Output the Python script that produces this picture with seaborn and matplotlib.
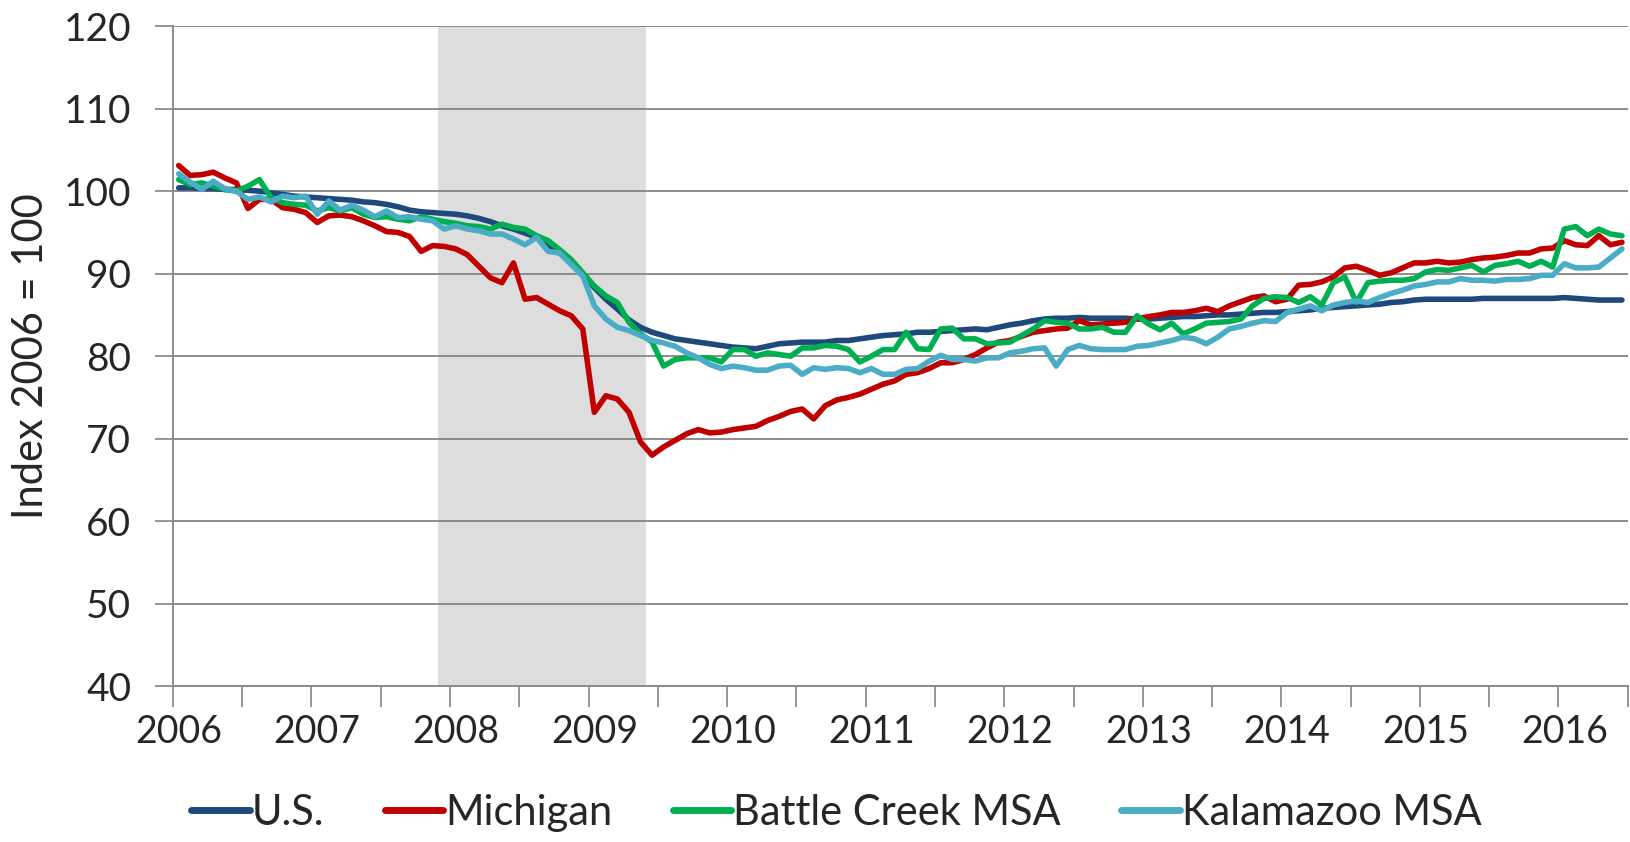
import numpy as np
import pandas as pd
import matplotlib
matplotlib.use("Agg")
import matplotlib.pyplot as plt
import seaborn as sns

# ---------- data (monthly index, 2006 = 100), Jan 2006 - Jun 2016 ----------
us = [100.4, 100.4, 100.3, 100.3, 100.2, 100.2, 100.1, 100.0, 99.8, 99.6,
      99.4, 99.3, 99.2, 99.1, 99.0, 98.9, 98.7, 98.6, 98.4, 98.1,
      97.7, 97.5, 97.4, 97.3, 97.2, 97.0, 96.7, 96.3, 95.8, 95.4,
      94.9, 94.4, 93.5, 92.5, 91.3, 89.9, 88.3, 86.9, 85.7, 84.4,
      83.5, 82.9, 82.5, 82.1, 81.9, 81.7, 81.5, 81.3, 81.1, 81.0,
      80.9, 81.2, 81.5, 81.6, 81.7, 81.7, 81.7, 81.9, 81.9, 82.1,
      82.3, 82.5, 82.6, 82.7, 82.9, 82.9, 83.0, 83.1, 83.2, 83.3,
      83.2, 83.5, 83.8, 84.0, 84.3, 84.5, 84.6, 84.6, 84.7, 84.6,
      84.6, 84.6, 84.6, 84.5, 84.5, 84.6, 84.7, 84.8, 84.8, 84.9,
      85.0, 85.0, 85.1, 85.2, 85.3, 85.3, 85.4, 85.5, 85.6, 85.8,
      85.9, 86.0, 86.1, 86.2, 86.3, 86.5, 86.6, 86.8, 86.9, 86.9,
      86.9, 86.9, 86.9, 87.0, 87.0, 87.0, 87.0, 87.0, 87.0, 87.0,
      87.1, 87.0, 86.9, 86.8, 86.8, 86.8]

michigan = [103.1, 101.9, 102.0, 102.3, 101.6, 101.0, 97.9, 99.0, 99.0, 98.0,
            97.8, 97.4, 96.2, 97.0, 97.1, 96.9, 96.4, 95.8, 95.1, 95.0,
            94.5, 92.7, 93.4, 93.3, 93.0, 92.3, 90.9, 89.5, 88.9, 91.3,
            86.9, 87.1, 86.3, 85.5, 84.9, 83.3, 73.2, 75.2, 74.8, 73.2,
            69.6, 68.0, 69.0, 69.8, 70.6, 71.1, 70.7, 70.8, 71.1, 71.3,
            71.5, 72.2, 72.7, 73.3, 73.6, 72.4, 74.0, 74.7, 75.0, 75.4,
            76.0, 76.6, 77.0, 77.8, 78.0, 78.5, 79.2, 79.2, 79.6, 80.2,
            81.0, 81.7, 81.9, 82.4, 82.9, 83.1, 83.3, 83.4, 84.3, 83.8,
            83.9, 84.0, 84.1, 84.5, 84.8, 85.0, 85.3, 85.3, 85.5, 85.8,
            85.4, 86.1, 86.6, 87.1, 87.3, 86.6, 86.9, 88.6, 88.7, 89.0,
            89.6, 90.7, 90.9, 90.4, 89.8, 90.1, 90.7, 91.3, 91.3, 91.5,
            91.3, 91.4, 91.7, 91.9, 92.0, 92.2, 92.5, 92.5, 93.0, 93.1,
            94.0, 93.5, 93.4, 94.6, 93.5, 93.8]

battle_creek = [101.4, 100.8, 101.0, 100.6, 100.2, 100.0, 100.6, 101.4, 99.2, 98.6,
                98.4, 98.3, 97.6, 98.0, 97.6, 98.0, 97.2, 96.8, 96.9, 96.6,
                96.4, 96.9, 96.6, 96.3, 96.1, 95.8, 95.7, 95.4, 96.0, 95.6,
                95.4, 94.6, 94.0, 92.9, 91.7, 90.1, 88.5, 87.3, 86.5, 84.1,
                82.7, 81.7, 78.8, 79.6, 79.8, 79.8, 79.8, 79.3, 80.8, 80.8,
                80.0, 80.4, 80.2, 80.0, 81.0, 81.0, 81.3, 81.2, 80.8, 79.3,
                80.0, 80.8, 80.8, 82.9, 80.9, 80.8, 83.3, 83.4, 82.1, 82.1,
                81.5, 81.6, 81.7, 82.5, 83.3, 84.3, 84.1, 84.0, 83.3, 83.3,
                83.5, 82.9, 82.9, 84.9, 83.9, 83.2, 84.0, 82.7, 83.3, 84.0,
                84.1, 84.2, 84.5, 86.1, 87.0, 87.2, 87.1, 86.5, 87.2, 86.2,
                88.9, 89.6, 86.5, 88.9, 89.1, 89.2, 89.2, 89.4, 90.2, 90.5,
                90.4, 90.7, 91.0, 90.2, 91.0, 91.2, 91.5, 90.9, 91.5, 90.8,
                95.4, 95.7, 94.6, 95.4, 94.8, 94.6]

kalamazoo = [102.1, 101.1, 100.2, 101.2, 100.3, 100.0, 99.0, 99.3, 98.7, 99.4,
             99.2, 99.4, 97.2, 98.8, 97.7, 98.3, 97.7, 96.9, 97.6, 96.8,
             96.9, 96.6, 96.4, 95.4, 95.8, 95.4, 95.2, 94.8, 94.8, 94.2,
             93.5, 94.4, 92.7, 92.5, 91.1, 89.7, 86.1, 84.5, 83.5, 83.1,
             82.5, 81.9, 81.6, 81.2, 80.4, 79.8, 79.0, 78.5, 78.8, 78.6,
             78.3, 78.3, 78.8, 78.9, 77.8, 78.6, 78.4, 78.6, 78.5, 78.0,
             78.5, 77.8, 77.8, 78.4, 78.5, 79.4, 80.1, 79.6, 79.6, 79.4,
             79.8, 79.8, 80.4, 80.6, 80.9, 81.0, 78.8, 80.8, 81.3, 80.9,
             80.8, 80.8, 80.8, 81.2, 81.3, 81.6, 81.9, 82.3, 82.1, 81.5,
             82.3, 83.3, 83.6, 84.0, 84.3, 84.2, 85.3, 85.7, 86.1, 85.5,
             86.2, 86.5, 86.7, 86.5, 87.1, 87.6, 88.0, 88.5, 88.7, 89.0,
             89.0, 89.4, 89.2, 89.2, 89.1, 89.3, 89.3, 89.4, 89.8, 89.8,
             91.2, 90.7, 90.7, 90.8, 91.9, 93.0]

series_names = ["U.S.", "Michigan", "Battle Creek MSA", "Kalamazoo MSA"]
colors = ["#1F497D", "#C00000", "#00B050", "#4BACC6"]
years = list(range(2006, 2017))
recession = ("2007-12", "2009-06")  # NBER recession, shaded

# ---------- build long table ----------
months = pd.date_range("2006-01", periods=len(us), freq="MS")
xpos = months.year + (months.month - 0.5) / 12.0  # centre of each month

frames = []
for name, vals in zip(series_names, [us, michigan, battle_creek, kalamazoo]):
    frames.append(pd.DataFrame({"x": xpos, "value": vals, "series": name}))
df = pd.concat(frames, ignore_index=True)


def to_x(s):
    d = pd.Timestamp(s)
    return d.year + (d.month - 1) / 12.0


# ---------- plot ----------
sns.set_theme(style="white")
plt.rcParams["font.family"] = ["Lato", "DejaVu Sans"]

fig = plt.figure(figsize=(16.31, 8.42), dpi=100)
ax = fig.add_axes([0.106, 0.185, 0.892, 0.784])

ax.axvspan(to_x(recession[0]), to_x(recession[1]), color="#DDDDDD", lw=0, zorder=0)

sns.lineplot(data=df, x="x", y="value", hue="series", hue_order=series_names,
             palette=colors, linewidth=4.0, ax=ax, zorder=3)

ax.set_xlim(2006, 2016.5)
ax.set_ylim(40, 120)
ax.set_yticks(range(40, 121, 10))
ax.yaxis.grid(True, color="#8C8C8C", linewidth=1.4, zorder=1)
ax.set_axisbelow(True)

# labels centred on January, tick marks every half year
ax.set_xticks([y + 1 / 24 for y in years])
ax.set_xticklabels([str(y) for y in years])
ax.set_xticks(np.arange(2006, 2016.51, 0.5), minor=True)
ax.tick_params(axis="x", which="major", length=0, pad=20, labelsize=27)
ax.tick_params(axis="x", which="minor", length=15, width=1.3, color="#8C8C8C",
               direction="out", bottom=True)
ax.tick_params(axis="y", length=13, width=1.3, color="#8C8C8C", direction="out",
               left=True, labelsize=28, pad=17)

for side in ["top", "right"]:
    ax.spines[side].set_visible(False)
for side in ["left", "bottom"]:
    ax.spines[side].set_color("#8C8C8C")
    ax.spines[side].set_linewidth(1.4)

ax.set_xlabel("")
ax.set_ylabel("Index 2006 = 100", fontsize=30, labelpad=10)

handles, labels = ax.get_legend_handles_labels()
for h in handles:
    h.set_linewidth(5)
ax.legend(handles, labels, loc="upper center", bbox_to_anchor=(0.456, -0.119),
          ncol=4, frameon=False, fontsize=30, handlelength=1.4,
          handletextpad=0.05, columnspacing=1.45, borderpad=0.2)

fig.savefig("out.png", dpi=100)
plt.close(fig)
